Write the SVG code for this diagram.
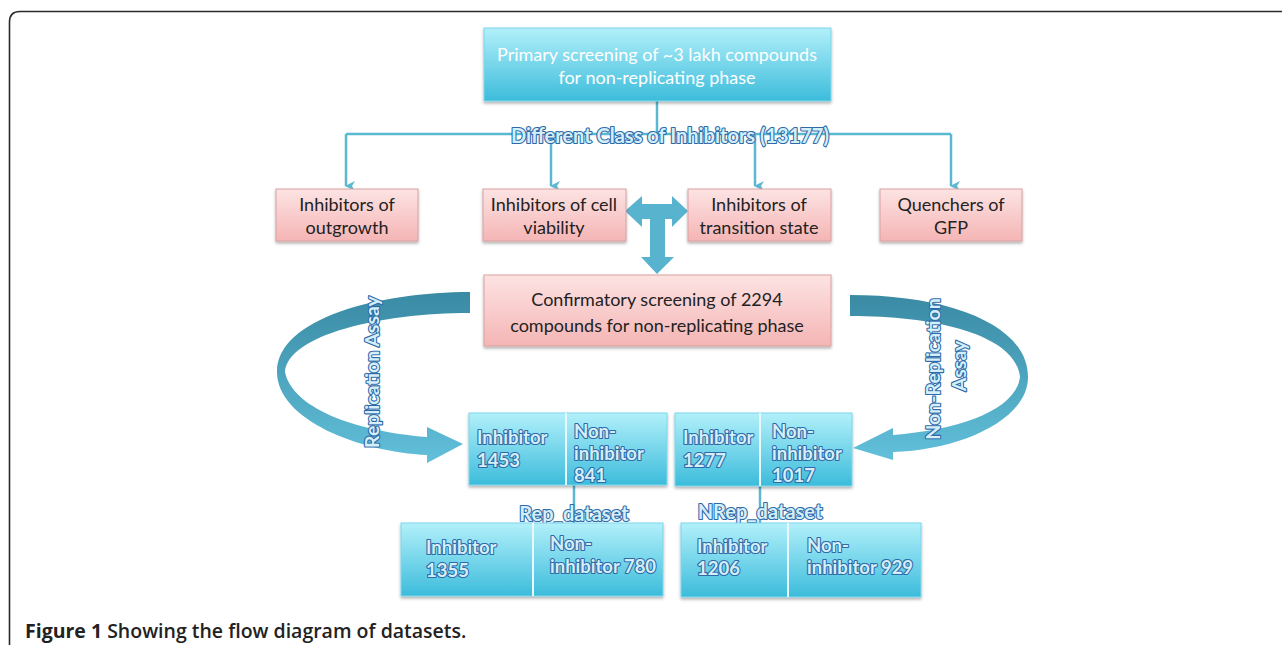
<svg xmlns="http://www.w3.org/2000/svg" width="1282" height="645" viewBox="0 0 1282 645">
<defs>
  <linearGradient id="cyan" x1="0" y1="0" x2="0" y2="1">
    <stop offset="0" stop-color="#b2f0fa"/>
    <stop offset="1" stop-color="#3cbcdb"/>
  </linearGradient>
  <linearGradient id="pink" x1="0" y1="0" x2="0" y2="1">
    <stop offset="0" stop-color="#fde3e3"/>
    <stop offset="1" stop-color="#f5b5b5"/>
  </linearGradient>
  <linearGradient id="ribbonL" x1="0" y1="0" x2="0" y2="1">
    <stop offset="0" stop-color="#3a8aa4"/>
    <stop offset="0.5" stop-color="#4ea5bf"/>
    <stop offset="1" stop-color="#62c0da"/>
  </linearGradient>
  <filter id="sh" x="-10%" y="-10%" width="120%" height="130%">
    <feDropShadow dx="0" dy="2" stdDeviation="1.5" flood-color="#000" flood-opacity="0.3"/>
  </filter>
  <marker id="ah" viewBox="0 0 10 10" refX="5" refY="9" markerWidth="10" markerHeight="10" markerUnits="userSpaceOnUse" orient="auto-start-reverse">
    <path d="M0,0 L5,3 L10,0 L5,10 Z" fill="#5ab8d0"/>
  </marker>
  <style>
    .cy{fill:url(#cyan);stroke:#7fd6ea;stroke-width:1;filter:url(#sh)}
    .pk{fill:url(#pink);stroke:#d9a0a0;stroke-width:1;filter:url(#sh)}
    .wt{font-family:"Lato","Liberation Sans",sans-serif;font-size:18px;fill:#ffffff;text-anchor:middle}
    .dk{font-family:"Lato","Liberation Sans",sans-serif;font-size:18px;fill:#222222;text-anchor:middle}
    .ol{font-family:"Lato","Liberation Sans",sans-serif;font-weight:700;font-size:18.5px;fill:#d4eff9;stroke:#2f6aa8;stroke-width:2.2;paint-order:stroke;stroke-linejoin:round}
    .big{font-size:20px}
    .rot{font-size:19.5px}
    .ln{fill:none;stroke:#5ab8d0;stroke-width:2.5}
    .dv{stroke:#e8f8fc;stroke-width:2}
    .cap{font-family:"Open Sans","Liberation Sans",sans-serif;font-size:19.5px;fill:#222}
  </style>
</defs>
<rect width="1282" height="645" fill="#ffffff"/>
<path d="M9.5,645 V22 Q9.5,11.5 20,11.5 H1282" fill="none" stroke="#2a2a2a" stroke-width="1.6"/>

<g id="connectors">
  <path class="ln" d="M657,101 V134"/>
  <path class="ln" d="M346,134 H951"/>
  <path class="ln" d="M346,134 V186" marker-end="url(#ah)"/>
  <path class="ln" d="M551,134 V186" marker-end="url(#ah)"/>
  <path class="ln" d="M755,134 V186" marker-end="url(#ah)"/>
  <path class="ln" d="M951,134 V186" marker-end="url(#ah)"/>
  <path class="ln" d="M574,485 V523"/>
  <path class="ln" d="M760,486 V523"/>
  <path id="t-arrow" fill="#58b3cf" d="M625,211 L642,196 L642,204 L672,204 L672,196 L688,211 L672,227 L672,219 L665,219 L665,257 L674,257 L657,274 L641,257 L650,257 L650,219 L642,219 L642,227 Z"/>
  <path id="replication-arrow" fill="url(#ribbonL)" d="M470,292 C380,292 277,318 277,372 C277,420 360,452 427,455 L427,463 L463,444 L427,427 L427,437 C352,431 292,407 285,372 C288,335 380,313 470,313 Z"/>
  <path id="nonreplication-arrow" fill="url(#ribbonL)" d="M850,295 C950,295 1028,325 1028,377 C1028,420 960,450 893,452 L893,460 L853,448 L893,428 L893,435 C960,430 1016,410 1020,377 C1016,336 940,316 850,316 Z"/>
</g>

<g id="primary">
  <rect class="cy" x="484" y="28" width="347" height="73"/>
  <text class="wt" x="657" y="61">Primary screening of ~3 lakh compounds</text>
  <text class="wt" x="657" y="84">for non-replicating phase</text>
</g>

<g id="class-label">
  <text class="ol big" x="670" y="143" text-anchor="middle">Different Class of Inhibitors (13177)</text>
</g>

<g id="outgrowth">
  <rect class="pk" x="276" y="189" width="142" height="52"/>
  <text class="dk" x="347" y="211">Inhibitors of</text>
  <text class="dk" x="347" y="234">outgrowth</text>
</g>
<g id="viability">
  <rect class="pk" x="483" y="189" width="143" height="52"/>
  <text class="dk" x="554" y="211">Inhibitors of cell</text>
  <text class="dk" x="554" y="234">viability</text>
</g>
<g id="transition">
  <rect class="pk" x="688" y="189" width="143" height="52"/>
  <text class="dk" x="759" y="211">Inhibitors of</text>
  <text class="dk" x="759" y="234">transition state</text>
</g>
<g id="gfp">
  <rect class="pk" x="880" y="189" width="142" height="52"/>
  <text class="dk" x="951" y="211">Quenchers of</text>
  <text class="dk" x="951" y="234">GFP</text>
</g>

<g id="confirmatory">
  <rect class="pk" x="484" y="275" width="347" height="71"/>
  <text class="dk" x="657" y="306">Confirmatory screening of 2294</text>
  <text class="dk" x="657" y="332">compounds for non-replicating phase</text>
</g>

<g id="assay-labels">
  <text class="ol rot" transform="translate(379,372) rotate(-90)" text-anchor="middle">Replication Assay</text>
  <text class="ol rot" transform="translate(940,369) rotate(-90)" text-anchor="middle">Non-Replication</text>
  <text class="ol rot" transform="translate(966,366) rotate(-90)" text-anchor="middle">Assay</text>
</g>

<g id="rep-split">
  <rect class="cy" x="469" y="413" width="198" height="72"/>
  <line class="dv" x1="566" y1="413" x2="566" y2="485"/>
  <text class="ol" x="477" y="444">Inhibitor</text>
  <text class="ol" x="477" y="467">1453</text>
  <text class="ol" x="574" y="438">Non-</text>
  <text class="ol" x="574" y="460">inhibitor</text>
  <text class="ol" x="574" y="482">841</text>
</g>

<g id="nrep-split">
  <rect class="cy" x="675" y="413" width="177" height="73"/>
  <line class="dv" x1="760" y1="413" x2="760" y2="486"/>
  <text class="ol" x="683" y="444">Inhibitor</text>
  <text class="ol" x="683" y="467">1277</text>
  <text class="ol" x="772" y="438">Non-</text>
  <text class="ol" x="772" y="460">inhibitor</text>
  <text class="ol" x="772" y="482">1017</text>
</g>

<g id="rep-label">
  <text class="ol big" x="574" y="521" text-anchor="middle">Rep_dataset</text>
</g>
<g id="nrep-label">
  <text class="ol big" x="760" y="519" text-anchor="middle">NRep_dataset</text>
</g>

<g id="rep-dataset">
  <rect class="cy" x="401" y="523" width="262" height="73"/>
  <line class="dv" x1="533" y1="523" x2="533" y2="596"/>
  <text class="ol" x="426" y="554">Inhibitor</text>
  <text class="ol" x="426" y="577">1355</text>
  <text class="ol" x="550" y="550">Non-</text>
  <text class="ol" x="550" y="573">inhibitor 780</text>
</g>

<g id="nrep-dataset">
  <rect class="cy" x="681" y="523" width="240" height="74"/>
  <line class="dv" x1="788" y1="523" x2="788" y2="597"/>
  <text class="ol" x="697" y="553">Inhibitor</text>
  <text class="ol" x="697" y="575">1206</text>
  <text class="ol" x="807" y="552">Non-</text>
  <text class="ol" x="807" y="574">inhibitor 929</text>
</g>

<g id="caption">
  <text class="cap" x="25" y="638"><tspan font-weight="700">Figure 1</tspan><tspan font-weight="600"> Showing the flow diagram of datasets.</tspan></text>
</g>
</svg>
